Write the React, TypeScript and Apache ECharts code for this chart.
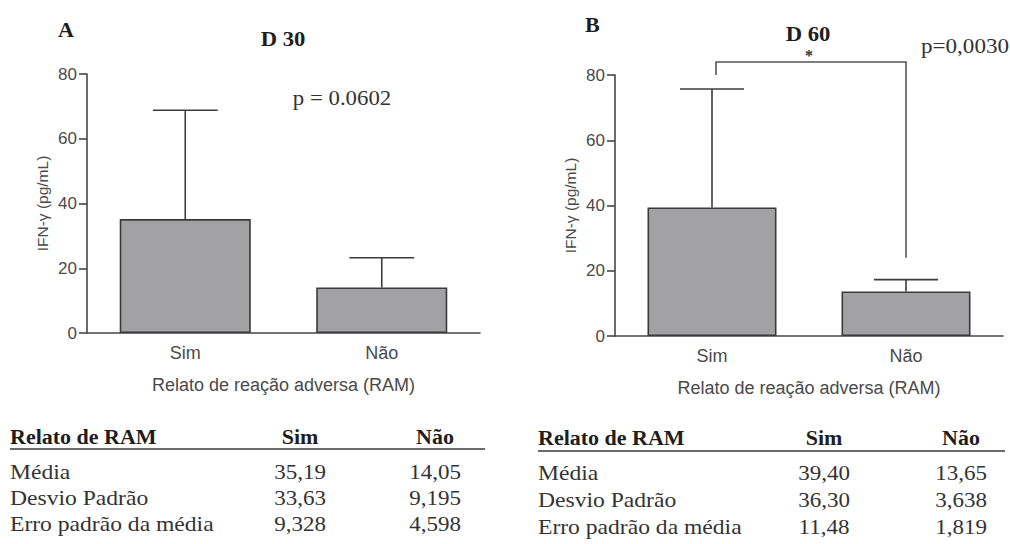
import React, { useEffect, useRef } from "react";
import * as echarts from "echarts";

const categories = ["Sim", "Não"];
const yTicks = [0, 20, 40, 60, 80];
// Panel A (D 30)
const meanA = [35.19, 14.05];
const sdA = [33.63, 9.195];
const semA = [9.328, 4.598];
// Panel B (D 60)
const meanB = [39.4, 13.65];
const sdB = [36.3, 3.638];
const semB = [11.48, 1.819];
// significance bracket for panel B (data units)
const bracketTop = 84;
const bracketLegBottoms = [80, 24];
const starLevel = 86;
const tableRowLabels = ["Média", "Desvio Padrão", "Erro padrão da média"];
const tableHeader = ["Relato de RAM", "Sim", "Não"];

const SANS = "'Liberation Sans', Arial, sans-serif";
const SERIF = "'Liberation Serif', 'Times New Roman', serif";
const AXIS_COLOR = "#474747";
const TEXT_COLOR = "#4a4a4a";

const fmt = (v: number) => v.toPrecision(4).replace(".", ",");

function txt(x: number, y: number, text: string, style: any, align: string, scaleX = 1) {
  return {
    type: "text",
    x,
    y,
    scaleX,
    style: { ...style, text, textAlign: align, textVerticalAlign: "middle" },
  };
}

function buildTable(
  left: number,
  simX: number,
  naoX: number,
  headerY: number,
  lineY: number,
  lineRight: number,
  rowYs: number[],
  means: number[],
  sds: number[],
  sems: number[]
) {
  const els: any[] = [];
  const hdrStyle = { fontFamily: SERIF, fontSize: 20, fontWeight: "bold", fill: "#1e1e1e" };
  els.push(txt(left, headerY, tableHeader[0], hdrStyle, "left", 1.1));
  els.push(txt(simX, headerY, tableHeader[1], hdrStyle, "center", 1.1));
  els.push(txt(naoX, headerY, tableHeader[2], hdrStyle, "center", 1.1));
  els.push({ type: "line", shape: { x1: left, y1: lineY, x2: lineRight, y2: lineY }, style: { stroke: "#6a6a6a", lineWidth: 2 } });
  const rowStyle = { fontFamily: SERIF, fontSize: 20, fill: "#333" };
  const cols = [means, sds, sems];
  tableRowLabels.forEach((lab, i) => {
    els.push(txt(left, rowYs[i], lab, rowStyle, "left", 1.18));
    els.push(txt(simX, rowYs[i], fmt(cols[i][0]), rowStyle, "center", 1.15));
    els.push(txt(naoX, rowYs[i], fmt(cols[i][1]), rowStyle, "center", 1.15));
  });
  return els;
}

function errorBarRender(params: any, api: any) {
  const x = api.value(0);
  const base = api.coord([x, api.value(1)]);
  const top = api.coord([x, api.value(2)]);
  const half = api.size([1, 0])[0] * 0.165;
  const st = { stroke: "#3c3c3c", lineWidth: 1.6 };
  return {
    type: "group",
    children: [
      { type: "line", shape: { x1: base[0], y1: base[1], x2: top[0], y2: top[1] }, style: st },
      { type: "line", shape: { x1: top[0] - half, y1: top[1], x2: top[0] + half, y2: top[1] }, style: st },
    ],
  };
}

function bracketRender(params: any, api: any) {
  const topY = api.value(1);
  const l0 = api.coord([0, api.value(2)]);
  const r0 = api.coord([1, api.value(3)]);
  const lt = api.coord([0, topY]);
  const rt = api.coord([1, topY]);
  const sy = api.coord([0, api.value(4)])[1];
  const st = { stroke: "#555", lineWidth: 1.6, fill: null };
  return {
    type: "group",
    children: [
      { type: "polyline", shape: { points: [[l0[0] + 4, l0[1]], [lt[0] + 4, lt[1]], [rt[0], rt[1]], [r0[0], r0[1]]] }, style: st },
      { type: "text", x: (lt[0] + rt[0]) / 2, y: sy, style: { text: "*", fontFamily: SERIF, fontSize: 16, fontWeight: "bold", fill: "#333", textAlign: "center", textVerticalAlign: "middle" } },
    ],
  };
}

function makeAxes(gridIndex: number) {
  const xAxis = {
    type: "category",
    gridIndex,
    data: categories,
    name: "Relato de reação adversa (RAM)",
    nameLocation: "middle",
    nameGap: 43,
    nameTextStyle: { fontFamily: SANS, fontSize: 18, color: TEXT_COLOR },
    axisLine: { lineStyle: { color: AXIS_COLOR, width: 1.6 } },
    axisTick: { alignWithLabel: true, length: 7, lineStyle: { color: AXIS_COLOR, width: 1.6 } },
    axisLabel: { fontFamily: SANS, fontSize: 18, color: TEXT_COLOR, margin: 11 },
    splitLine: { show: false },
  };
  const yAxis = {
    type: "value",
    gridIndex,
    min: 0,
    max: 80,
    interval: 20,
    name: "IFN-γ (pg/mL)",
    nameLocation: "middle",
    nameGap: 37,
    nameTextStyle: { fontFamily: SANS, fontSize: 15.5, color: TEXT_COLOR },
    axisLine: { show: true, lineStyle: { color: AXIS_COLOR, width: 1.6 } },
    axisTick: { show: true, length: 8, lineStyle: { color: AXIS_COLOR, width: 1.6 } },
    axisLabel: { fontFamily: SANS, fontSize: 17, color: TEXT_COLOR, margin: 10, formatter: (v: number) => (yTicks.includes(v) ? String(v) : "") },
    splitLine: { show: false },
  };
  return { xAxis, yAxis };
}

export default function App() {
  const ref = useRef<HTMLDivElement>(null);
  useEffect(() => {
    if (!ref.current) return;
    const chart = echarts.init(ref.current, null, { renderer: "svg" });
    const a = makeAxes(0);
    const b = makeAxes(1);
    const barStyle = { color: "#a2a2a4", borderColor: "#3a3a3a", borderWidth: 1.6 };
    const titleStyle = { fontFamily: SERIF, fontSize: 21, fontWeight: "bold", fill: "#1e1e1e" };
    const pStyle = { fontFamily: SERIF, fontSize: 20, fill: "#333" };
    const option: any = {
      animation: false,
      backgroundColor: "#ffffff",
      grid: [
        { left: 87, top: 74, width: 393, height: 259 },
        { left: 615, top: 75, width: 388, height: 261 },
      ],
      xAxis: [a.xAxis, b.xAxis],
      yAxis: [a.yAxis, b.yAxis],
      series: [
        { type: "bar", xAxisIndex: 0, yAxisIndex: 0, data: meanA, barWidth: "66.7%", itemStyle: barStyle },
        { type: "bar", xAxisIndex: 1, yAxisIndex: 1, data: meanB, barWidth: "66.5%", itemStyle: barStyle },
        {
          type: "custom", xAxisIndex: 0, yAxisIndex: 0, renderItem: errorBarRender,
          encode: { x: 0, y: [1, 2] },
          data: meanA.map((m, i) => [i, m, m + sdA[i]]), z: 5,
        },
        {
          type: "custom", xAxisIndex: 1, yAxisIndex: 1, renderItem: errorBarRender,
          encode: { x: 0, y: [1, 2] },
          data: meanB.map((m, i) => [i, m, m + sdB[i]]), z: 5,
        },
        {
          type: "custom", xAxisIndex: 1, yAxisIndex: 1, renderItem: bracketRender, clip: false,
          encode: { x: 0, y: 1 },
          data: [[0, bracketTop, bracketLegBottoms[0], bracketLegBottoms[1], starLevel]], z: 6,
        },
      ],
      graphic: [
        txt(58, 30, "A", titleStyle, "left", 1.05),
        txt(283, 39, "D 30", titleStyle, "center", 1.08),
        txt(342, 98, "p = 0.0602", pStyle, "center", 1.14),
        txt(585, 25, "B", titleStyle, "left", 1.05),
        txt(808, 34, "D 60", titleStyle, "center", 1.08),
        txt(965, 46, "p=0,0030", { ...pStyle, fontSize: 21 }, "center", 1.1),
        ...buildTable(10, 300, 435, 437, 449, 485, [473, 499, 525], meanA, sdA, semA),
        ...buildTable(538, 824, 961, 438, 451, 1005, [474, 501, 528], meanB, sdB, semB),
      ],
    };
    chart.setOption(option);
    return () => chart.dispose();
  }, []);
  return <div ref={ref} style={{ position: "fixed", left: 0, top: 0, width: 1010, height: 544 }} />;
}
